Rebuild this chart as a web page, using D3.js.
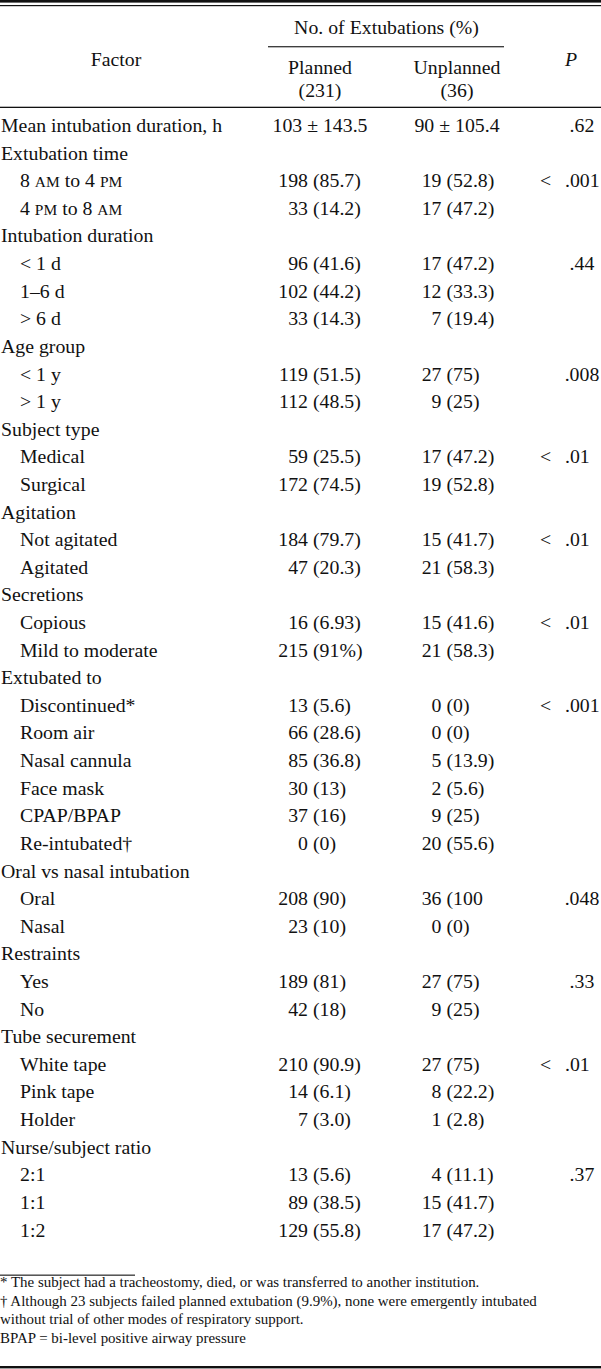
<!DOCTYPE html>
<html>
<head>
<meta charset="utf-8">
<script src="https://cdn.jsdelivr.net/npm/d3@7"></script>
<style>
  body { margin: 0; background: #fff; }
  svg text { font-family: "Liberation Serif", "Times New Roman", serif; fill: #111; }
</style>
</head>
<body>
<div id="table"></div>
<script>
// table content
var factorLabels = ["Mean intubation duration, h", "Extubation time", "8 AM to 4 PM", "4 PM to 8 AM",
  "Intubation duration", "< 1 d", "1–6 d", "> 6 d", "Age group", "< 1 y", "> 1 y",
  "Subject type", "Medical", "Surgical", "Agitation", "Not agitated", "Agitated",
  "Secretions", "Copious", "Mild to moderate", "Extubated to", "Discontinued*", "Room air",
  "Nasal cannula", "Face mask", "CPAP/BPAP", "Re-intubated†", "Oral vs nasal intubation",
  "Oral", "Nasal", "Restraints", "Yes", "No", "Tube securement", "White tape", "Pink tape",
  "Holder", "Nurse/subject ratio", "2:1", "1:1", "1:2"];
var isSubRow = [0,0,1,1,0,1,1,1,0,1,1,0,1,1,0,1,1,0,1,1,0,1,1,1,1,1,1,0,1,1,0,1,1,0,1,1,1,0,1,1,1];
var planned = ["103 ± 143.5", "", "198 (85.7)", "33 (14.2)", "", "96 (41.6)", "102 (44.2)", "33 (14.3)",
  "", "119 (51.5)", "112 (48.5)", "", "59 (25.5)", "172 (74.5)", "", "184 (79.7)", "47 (20.3)",
  "", "16 (6.93)", "215 (91%)", "", "13 (5.6)", "66 (28.6)", "85 (36.8)", "30 (13)", "37 (16)", "0 (0)",
  "", "208 (90)", "23 (10)", "", "189 (81)", "42 (18)", "", "210 (90.9)", "14 (6.1)", "7 (3.0)",
  "", "13 (5.6)", "89 (38.5)", "129 (55.8)"];
var unplanned = ["90 ± 105.4", "", "19 (52.8)", "17 (47.2)", "", "17 (47.2)", "12 (33.3)", "7 (19.4)",
  "", "27 (75)", "9 (25)", "", "17 (47.2)", "19 (52.8)", "", "15 (41.7)", "21 (58.3)",
  "", "15 (41.6)", "21 (58.3)", "", "0 (0)", "0 (0)", "5 (13.9)", "2 (5.6)", "9 (25)", "20 (55.6)",
  "", "36 (100", "0 (0)", "", "27 (75)", "9 (25)", "", "27 (75)", "8 (22.2)", "1 (2.8)",
  "", "4 (11.1)", "15 (41.7)", "17 (47.2)"];
var pValues = [".62", "", "< .001", "", "", ".44", "", "", "", ".008", "", "", "< .01", "", "",
  "< .01", "", "", "< .01", "", "", "< .001", "", "", "", "", "", "", ".048", "", "", ".33", "",
  "", "< .01", "", "", "", ".37", "", ""];
var groupHeader = "No. of Extubations (%)";
var columnNames = ["Planned", "Unplanned"];
var columnTotals = ["(231)", "(36)"];
var footnotes = ["* The subject had a tracheostomy, died, or was transferred to another institution.",
  "† Although 23 subjects failed planned extubation (9.9%), none were emergently intubated",
  "without trial of other modes of respiratory support.",
  "BPAP = bi-level positive airway pressure"];

var W = 601, H = 1369;
var FS = 18.7, SX = 1.06;   // glyphs in the scan are a bit wider than tall

var svg = d3.select("#table").append("svg").attr("width", W).attr("height", H);

var y = d3.scaleLinear().domain([0, factorLabels.length - 1]).range([132, 1236.5]);
var colCenter = d3.scaleOrdinal().domain(columnNames).range([320, 457]);
var countEdge = d3.scaleOrdinal().domain(columnNames).range([308, 441.5]);

function txt(g, x, yy, s, anchor, size) {
  return g.append("text")
    .attr("transform", "translate(" + x + "," + yy + ") scale(" + SX + ",1)")
    .attr("text-anchor", anchor || "start")
    .attr("font-size", (size || FS) + "px")
    .text(s);
}

// rules
svg.append("rect").attr("x", 0).attr("y", 0).attr("width", W).attr("height", 2.6).attr("fill", "#111");
svg.append("rect").attr("x", 0).attr("y", 5).attr("width", W).attr("height", 1.2).attr("fill", "#111");
svg.append("rect").attr("x", 268).attr("y", 46.2).attr("width", 236).attr("height", 1.1).attr("fill", "#111");
svg.append("rect").attr("x", 0).attr("y", 106.7).attr("width", W).attr("height", 1.3).attr("fill", "#111");
svg.append("rect").attr("x", 0).attr("y", 1274.6).attr("width", 135).attr("height", 1.1).attr("fill", "#111");
svg.append("rect").attr("x", 0).attr("y", 1366).attr("width", W).attr("height", 2.4).attr("fill", "#111");

// header
var head = svg.append("g");
txt(head, 116, 65.7, "Factor", "middle");
txt(head, 386.5, 34, groupHeader, "middle");
columnNames.forEach(function (c, i) {
  txt(head, colCenter(c), 74, c, "middle");
  txt(head, colCenter(c), 96.5, columnTotals[i], "middle");
});
txt(head, 571, 65.7, "P", "middle").attr("font-style", "italic");

// body
var body = svg.append("g");
factorLabels.forEach(function (lab, i) {
  var t = txt(body, isSubRow[i] ? 20 : 1, y(i), "", "start");
  lab.split(/(AM|PM)/).forEach(function (part) {
    if (part === "AM" || part === "PM") t.append("tspan").attr("font-size", "0.78em").text(part);
    else if (part) t.append("tspan").text(part);
  });
});

function cell(vals, col) {
  vals.forEach(function (v, i) {
    if (!v) return;
    if (v.indexOf("±") >= 0) { txt(body, colCenter(col), y(i), v, "middle"); return; }
    var k = v.indexOf(" ");
    txt(body, countEdge(col), y(i), v.slice(0, k), "end");
    txt(body, countEdge(col) + 5, y(i), v.slice(k + 1), "start");
  });
}
cell(planned, "Planned");
cell(unplanned, "Unplanned");

pValues.forEach(function (p, i) {
  if (!p) return;
  if (p.charAt(0) === "<") {
    txt(body, 540, y(i), "<", "start");
    txt(body, 565, y(i), p.slice(2), "start");
  } else {
    txt(body, 582, y(i), p, "middle");
  }
});

// footnotes
var foot = svg.append("g");
var fy = d3.scaleLinear().domain([0, footnotes.length - 1]).range([1287, 1342.5]);
footnotes.forEach(function (f, i) { txt(foot, 0, fy(i), f, "start", 14.1); });
</script>
</body>
</html>
